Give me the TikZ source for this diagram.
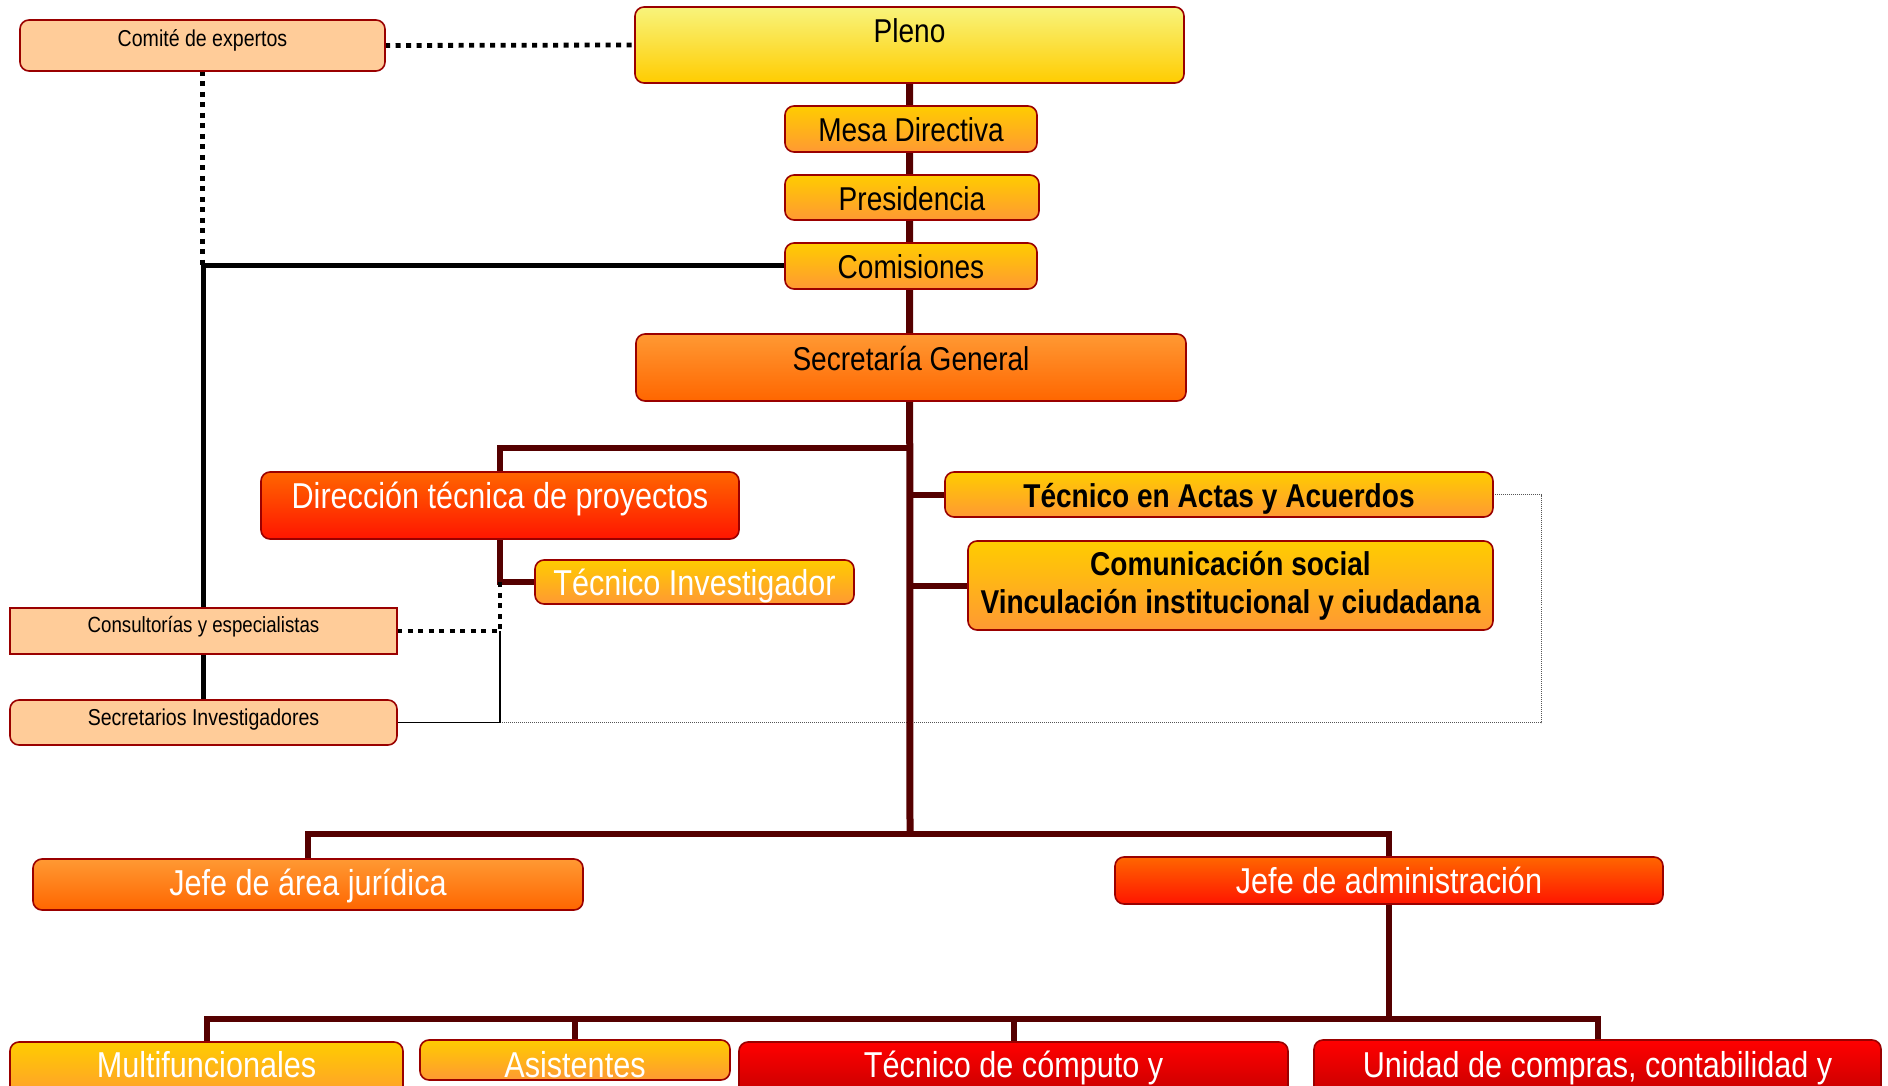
\documentclass[tikz,border=0pt]{standalone}
\usepackage{fontspec}
\setmainfont{Liberation Sans}[FakeStretch=0.85]
\usetikzlibrary{backgrounds}
\definecolor{bord}{HTML}{9A0000}
\definecolor{conn}{HTML}{550000}
\definecolor{peach}{HTML}{FFCC99}
\definecolor{paley}{HTML}{F8F47C}
\definecolor{gold}{HTML}{FFCC00}
\definecolor{lorange}{HTML}{FF9933}
\definecolor{dorange}{HTML}{FF6600}
\definecolor{redb}{HTML}{FF1500}
\definecolor{pure}{HTML}{FF0000}
\definecolor{darkred}{HTML}{C00000}
\definecolor{dotgray}{HTML}{555555}
\begin{document}
\begin{tikzpicture}[x=1pt,y=-1pt,
  box/.style={draw=bord, line width=1.6pt, rounded corners=9pt, inner sep=0pt, outer sep=0pt,
    anchor=north west, font=\fontsize{33}{38}\selectfont},
  big/.style={font=\fontsize{36}{42}\selectfont},
  boldtxt/.style={font=\fontsize{33}{38}\selectfont\bfseries},
  wtext/.style={text=white},
  peachbox/.style={box, fill=peach, font=\fontsize{23}{27}\selectfont},
  plenobox/.style={box, top color=paley, bottom color=gold},
  goldbox/.style={box, top color=gold, bottom color=lorange},
  sgbox/.style={box, top color=lorange, bottom color=dorange},
  redbox/.style={box, top color=dorange, bottom color=redb},
  redbot/.style={box, top color=pure, bottom color=darkred},
  trunk/.style={draw=conn, line width=7pt},
  branch/.style={draw=conn, line width=6pt},
  bsolid/.style={draw=black, line width=5pt},
  bdots/.style={draw=black, line width=4.8pt, dash pattern=on 5pt off 5.5pt},
  bthin/.style={draw=black, line width=1.5pt},
  gdots/.style={draw=dotgray, line width=1pt, dash pattern=on 1pt off 1pt}]
\useasboundingbox (0,0) rectangle (1888,1086);

\node[peachbox, minimum width=365pt, text height=27pt, text depth=24pt] (com) at (20,20) {Comité de expertos};
\node[plenobox, minimum width=549pt, text height=36pt, text depth=40pt] (pleno) at (635,7) {Pleno};
\node[goldbox, minimum width=252pt, text height=36pt, text depth=10pt] (mesa) at (785,106) {Mesa Directiva};
\node[goldbox, minimum width=254pt, text height=36pt, text depth=9pt] (pres) at (785,175) {Presidencia};
\node[goldbox, minimum width=252pt, text height=35pt, text depth=11pt] (comis) at (785,243) {Comisiones};
\node[sgbox, minimum width=550pt, text height=36pt, text depth=31pt] (sg) at (636,334) {Secretaría General};
\node[redbox, wtext, big, minimum width=478pt, text height=36pt, text depth=31pt] (dtp) at (261,472) {Dirección técnica de proyectos};
\node[goldbox, wtext, big, minimum width=319pt, text height=35pt, text depth=9pt] (ti) at (535,560) {Técnico Investigador};
\node[goldbox, boldtxt, minimum width=548pt, text height=35pt, text depth=10pt] (actas) at (945,472) {Técnico en Actas y Acuerdos};
\node[goldbox, boldtxt, align=center, minimum width=525pt, minimum height=89pt] (comsoc) at (968,541) {Comunicación social\\Vinculación institucional y ciudadana};
\node[peachbox, sharp corners, minimum width=387pt, text height=24pt, text depth=22pt, font=\fontsize{22}{26}\selectfont] (cons) at (10,608) {Consultorías y especialistas};
\node[peachbox, minimum width=387pt, text height=25pt, text depth=20pt] (secinv) at (10,700) {Secretarios Investigadores};
\node[sgbox, wtext, big, minimum width=550pt, text height=36pt, text depth=15pt] (jaj) at (33,859) {Jefe de área jurídica};
\node[redbox, wtext, big, minimum width=548pt, text height=36pt, text depth=11pt] (jadm) at (1115,857) {Jefe de administración};
\node[goldbox, wtext, big, minimum width=393pt, text height=35pt, text depth=25pt] (multi) at (10,1042) {Multifuncionales};
\node[goldbox, wtext, big, minimum width=310pt, text height=37pt, text depth=3pt] (asis) at (420,1040) {Asistentes};
\node[redbot, wtext, big, minimum width=549pt, text height=35pt, text depth=25pt] (tcomp) at (739,1042) {Técnico de cómputo y};
\node[redbot, wtext, big, minimum width=567pt, text height=37pt, text depth=25pt] (ucomp) at (1314,1040) {Unidad de compras, contabilidad y};

\coordinate (jb) at (910,834);
\coordinate (jd) at (910,448);
\coordinate (ja) at (1389,1019);
\coordinate (dr) at (1541,0);

\begin{scope}[on background layer]
\fill[white] (0,0) rectangle (1888,1086);
\draw[gdots] (secinv.east -| dtp.south) -| (actas.east -| dr) -- (actas.east);
\draw[trunk] (pleno.south) -- (jb);
\draw[branch] (dtp.north) |- (jd);
\draw[branch] (actas.west) -- (actas.west -| jb);
\draw[branch] (comsoc.west) -- (comsoc.west -| jb);
\draw[branch] (dtp.south) |- (ti.west);
\draw[branch] (jaj.north) |- (jb);
\draw[branch] (jadm.north) |- (jb);
\draw[branch] (jadm.south) -- (ja);
\draw[branch] (multi.north) |- (ja);
\draw[branch] (ucomp.north) |- (ja);
\draw[branch] (asis.north) -- (asis.north |- ja);
\draw[branch] (tcomp.north) -- (tcomp.north |- ja);
\draw[bdots] (com.east) -- (pleno.west);
\draw[bdots] (com.south) -- (com.south |- comis.west);
\draw[bsolid] (comis.west) -| (cons.north);
\draw[bsolid] (cons.south) -- (secinv.north);
\draw[bdots] (cons.east) -| (dtp.south |- ti.west);
\draw[bthin] (secinv.east) -| (dtp.south |- cons.east);
\end{scope}
\end{tikzpicture}
\end{document}
